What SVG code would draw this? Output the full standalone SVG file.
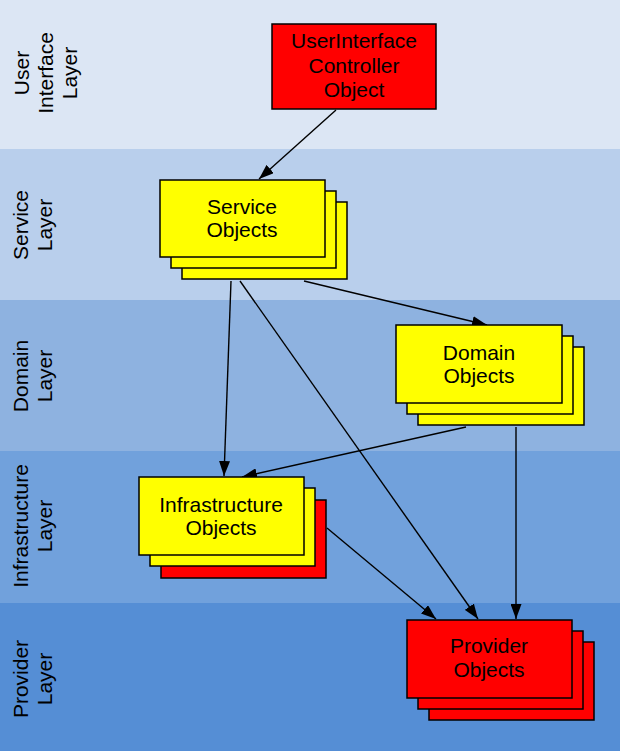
<svg xmlns="http://www.w3.org/2000/svg" width="620" height="751" viewBox="0 0 620 751">
<style>
text{font-family:"Liberation Sans",Arial,sans-serif;font-size:21px;fill:#000;text-anchor:middle}
.y{fill:#ffff00;stroke:#000;stroke-width:1.5}
.r{fill:#ff0000;stroke:#000;stroke-width:1.5}
.c{stroke:#000;stroke-width:1.4;fill:none;marker-end:url(#ah)}
</style>
<defs>
<marker id="ah" viewBox="0 0 15 11" refX="15" refY="5.5" markerWidth="15" markerHeight="11" markerUnits="userSpaceOnUse" orient="auto">
<path d="M0,0 L15,5.5 L0,11 Z" fill="#000"/>
</marker>
</defs>
<g id="bands">
<rect x="0" y="0" width="620" height="149" fill="#dce6f4"/>
<rect x="0" y="149" width="620" height="151" fill="#b9cfec"/>
<rect x="0" y="300" width="620" height="151" fill="#8eb2e0"/>
<rect x="0" y="451" width="620" height="152" fill="#71a1dc"/>
<rect x="0" y="603" width="620" height="148" fill="#558ed5"/>
</g>
<g id="layer-labels">
<text transform="translate(0,73) rotate(-90)"><tspan x="0" y="29">User</tspan><tspan x="0" y="53">Interface</tspan><tspan x="0" y="77">Layer</tspan></text>
<text transform="translate(0,225) rotate(-90)"><tspan x="0" y="28">Service</tspan><tspan x="0" y="52">Layer</tspan></text>
<text transform="translate(0,376) rotate(-90)"><tspan x="0" y="28">Domain</tspan><tspan x="0" y="52">Layer</tspan></text>
<text transform="translate(0,526) rotate(-90)"><tspan x="0" y="28">Infrastructure</tspan><tspan x="0" y="52">Layer</tspan></text>
<text transform="translate(0,679) rotate(-90)"><tspan x="0" y="28">Provider</tspan><tspan x="0" y="52">Layer</tspan></text>
</g>
<g id="connectors">
<line class="c" x1="336" y1="110" x2="259" y2="179"/>
<line class="c" x1="231" y1="281" x2="224" y2="476"/>
<line class="c" x1="304" y1="281" x2="487" y2="325"/>
<line class="c" x1="240" y1="281" x2="478" y2="619"/>
<line class="c" x1="466" y1="427" x2="242" y2="477"/>
<line class="c" x1="516" y1="427" x2="516" y2="619"/>
<line class="c" x1="327" y1="528" x2="436" y2="619"/>
</g>
<g id="ui-controller">
<rect class="r" x="272" y="24" width="164" height="85"/>
<text x="354" y="48">UserInterface</text>
<text x="354" y="73">Controller</text>
<text x="354" y="97">Object</text>
</g>
<g id="service-objects">
<rect class="y" x="182" y="202" width="165" height="77"/>
<rect class="y" x="171" y="191" width="165" height="77"/>
<rect class="y" x="160" y="180" width="165" height="77"/>
<text x="242" y="214">Service</text>
<text x="242" y="237">Objects</text>
</g>
<g id="domain-objects">
<rect class="y" x="418" y="347" width="166" height="78"/>
<rect class="y" x="407" y="336" width="166" height="78"/>
<rect class="y" x="396" y="325" width="166" height="78"/>
<text x="479" y="360">Domain</text>
<text x="479" y="383">Objects</text>
</g>
<g id="infrastructure-objects">
<rect class="r" x="161" y="500" width="165" height="78"/>
<rect class="y" x="150" y="488" width="165" height="78"/>
<rect class="y" x="139" y="477" width="165" height="78"/>
<text x="221" y="512">Infrastructure</text>
<text x="221" y="535">Objects</text>
</g>
<g id="provider-objects">
<rect class="r" x="429" y="642" width="165" height="78"/>
<rect class="r" x="418" y="631" width="165" height="78"/>
<rect class="r" x="407" y="620" width="165" height="78"/>
<text x="489" y="653">Provider</text>
<text x="489" y="677">Objects</text>
</g>
</svg>
